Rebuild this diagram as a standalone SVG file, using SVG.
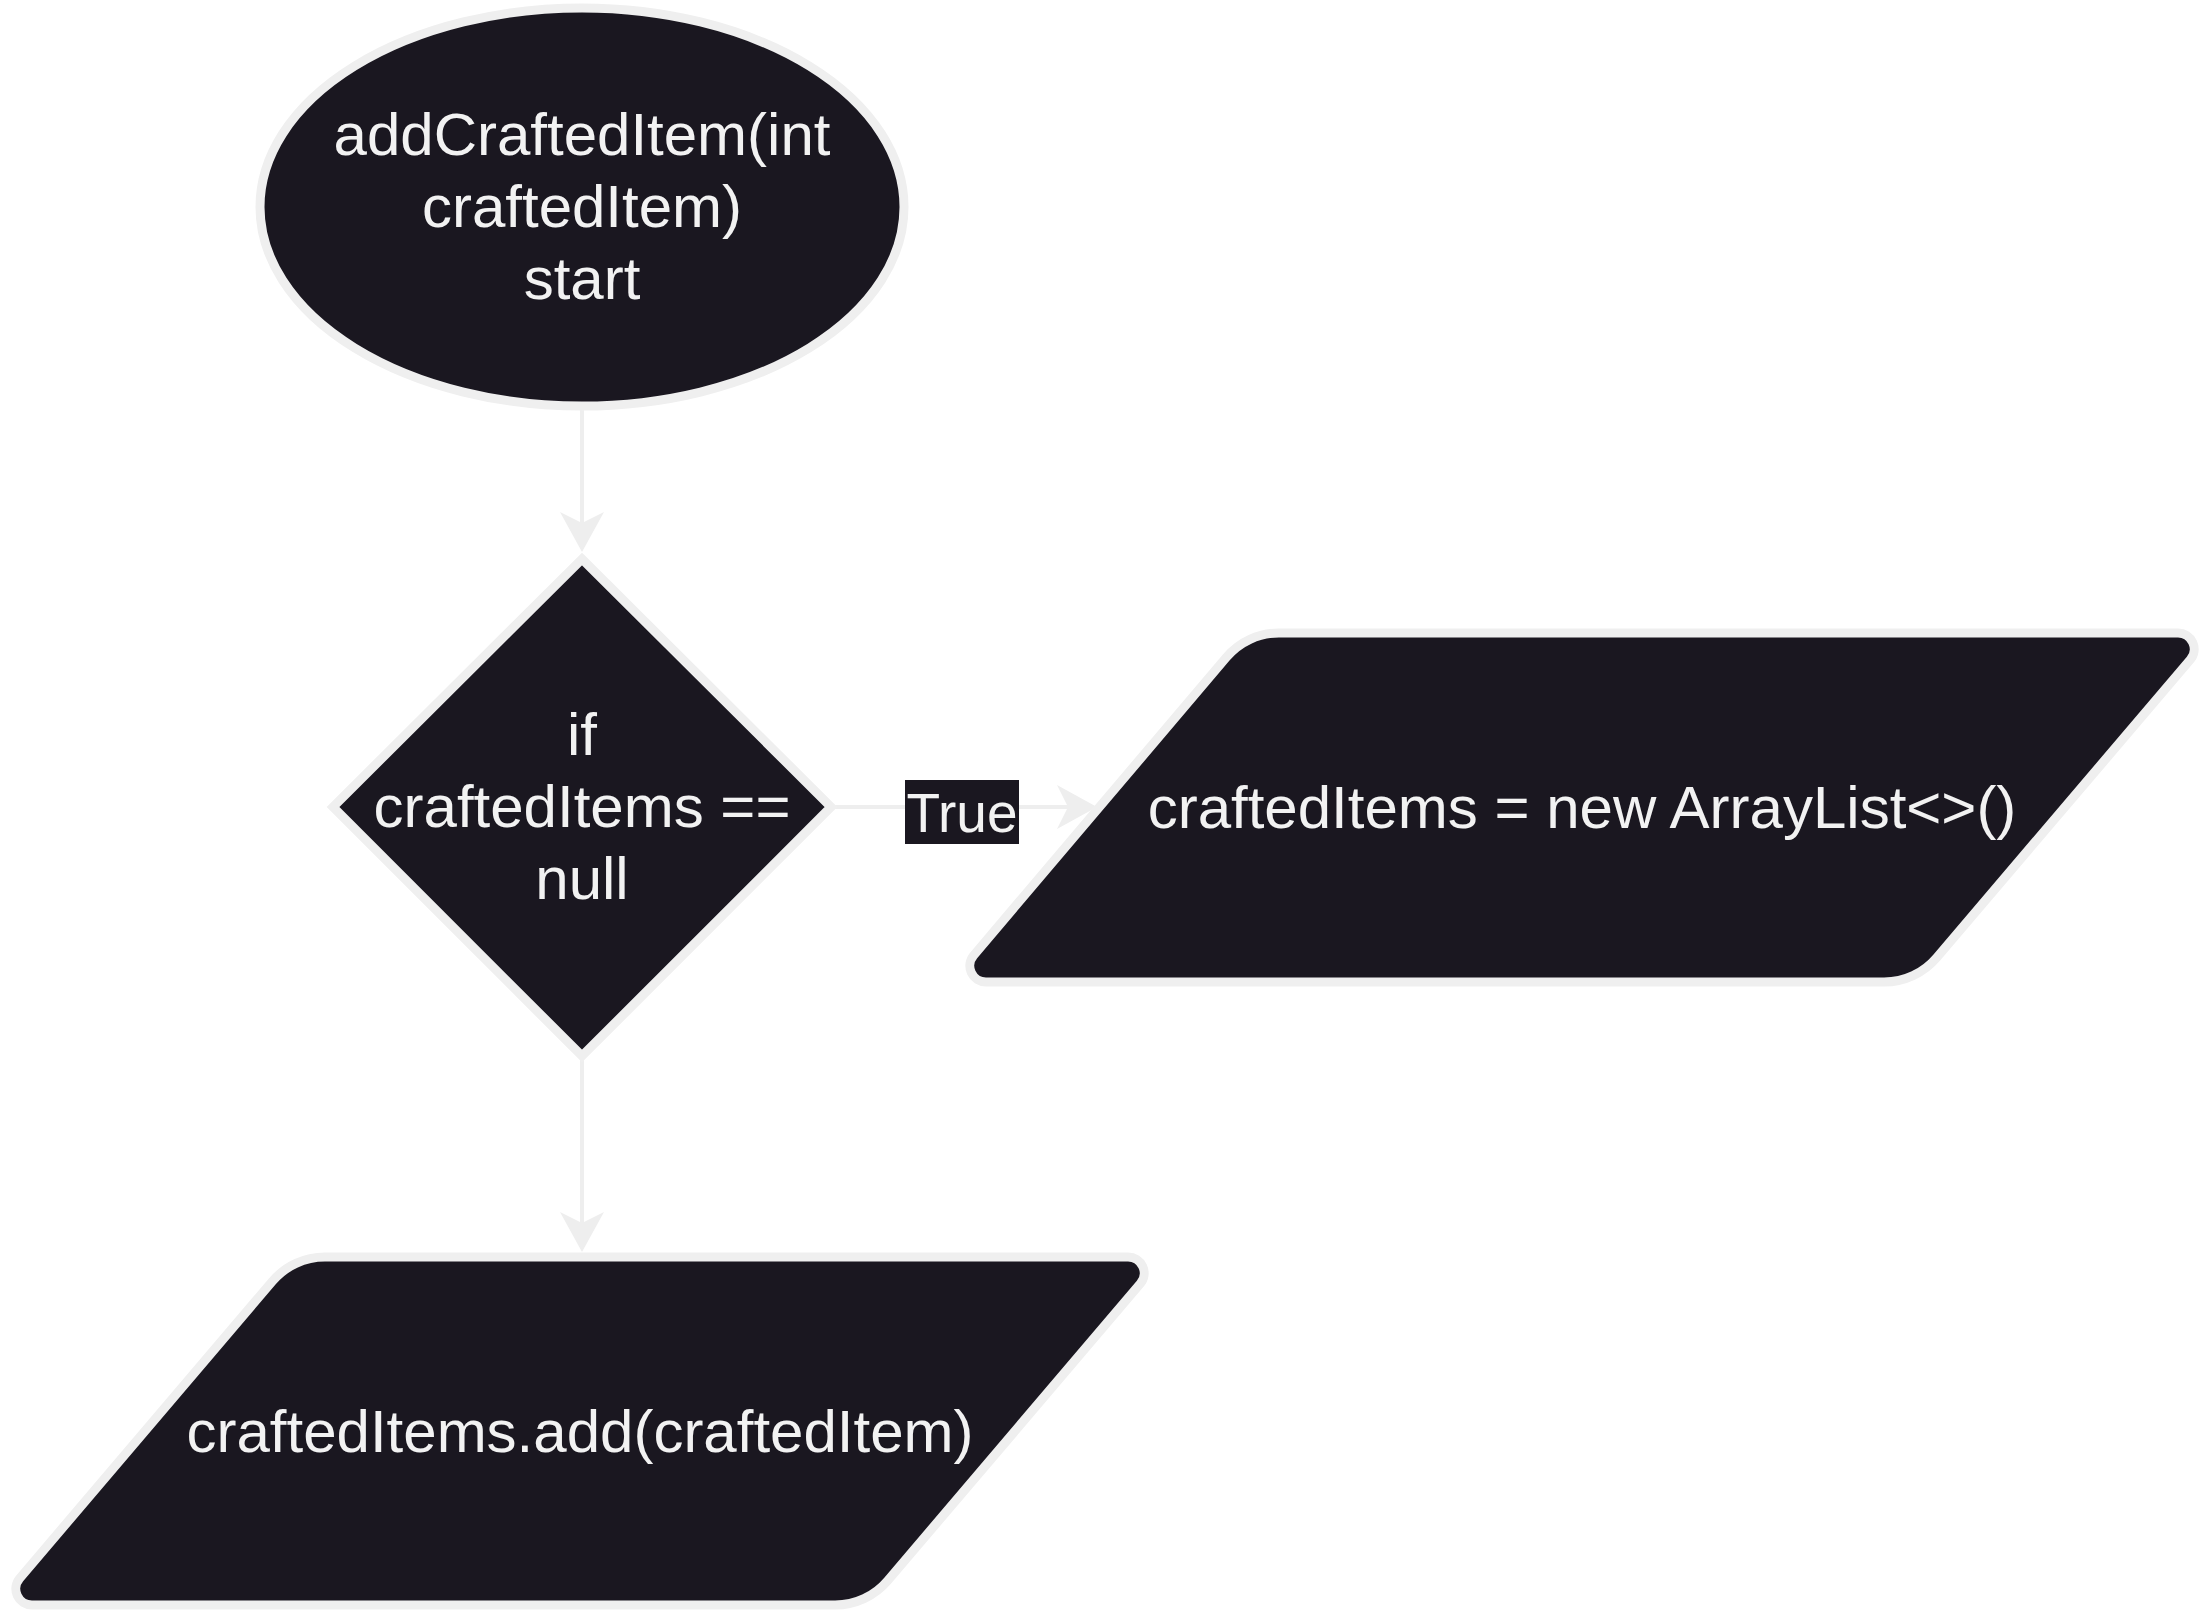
<svg xmlns="http://www.w3.org/2000/svg" width="2210" height="1610" viewBox="0 0 2210 1610">
<style>
.shape{fill:#1a1720;stroke:#efefef;stroke-width:9;}
.lbl{font-family:"Liberation Sans",Arial,Helvetica,sans-serif;font-size:60px;fill:#f2f2f2;text-anchor:middle;}
.edge{stroke:#eeeeee;stroke-width:4;fill:none;}
.elbl{font-family:"Liberation Sans",Arial,Helvetica,sans-serif;font-size:55px;fill:#f2f2f2;text-anchor:middle;}
</style>
<defs>
<marker id="arrow" markerUnits="userSpaceOnUse" viewBox="0 0 40 44" refX="20" refY="22" markerWidth="40" markerHeight="44" orient="auto">
<path d="M0,0 L40,22 L0,44 L11,22 Z" fill="#eeeeee"/>
</marker>
</defs>
<rect x="0" y="0" width="2210" height="1610" fill="#ffffff"/>
<g id="connectors">
<line class="edge" x1="582" y1="409" x2="582" y2="532" marker-end="url(#arrow)"/>
<line class="edge" x1="835" y1="807" x2="1077" y2="807" marker-end="url(#arrow)"/>
<line class="edge" x1="582" y1="1060" x2="582" y2="1232" marker-end="url(#arrow)"/>
<g id="label-true">
<rect x="905" y="780" width="114" height="64" fill="#1a1720"/>
<text class="elbl" x="962" y="832">True</text>
</g>
</g>
<g id="start">
<ellipse class="shape" cx="582" cy="207" rx="322" ry="199"/>
<text class="lbl" x="582" y="155">addCraftedItem(int</text>
<text class="lbl" x="582" y="227">craftedItem)</text>
<text class="lbl" x="582" y="299">start</text>
</g>
<g id="decision">
<polygon class="shape" points="582,559 831,807 582,1056 333,807" stroke-linejoin="miter"/>
<text class="lbl" x="582" y="755">if</text>
<text class="lbl" x="582" y="827">craftedItems ==</text>
<text class="lbl" x="582" y="899">null</text>
</g>
<g id="init">
<path class="shape" d="M1279,633 L2178,633 A16.2,16.2 0 0 1 2190.3,659.7 L1936.7,957.6 A69,69 0 0 1 1884,982 L986,982 A16.2,16.2 0 0 1 973.7,955.3 L1226.3,657.4 A69,69 0 0 1 1279,633 Z"/>
<text class="lbl" x="1582" y="828">craftedItems = new ArrayList&lt;&gt;()</text>
</g>
<g id="add">
<path class="shape" d="M325,1257 L1128,1257 A16.2,16.2 0 0 1 1140.3,1283.7 L887.7,1580.6 A69,69 0 0 1 835,1605 L32,1605 A16.2,16.2 0 0 1 19.7,1578.3 L272.3,1281.4 A69,69 0 0 1 325,1257 Z"/>
<text class="lbl" x="580" y="1452">craftedItems.add(craftedItem)</text>
</g>
</svg>
